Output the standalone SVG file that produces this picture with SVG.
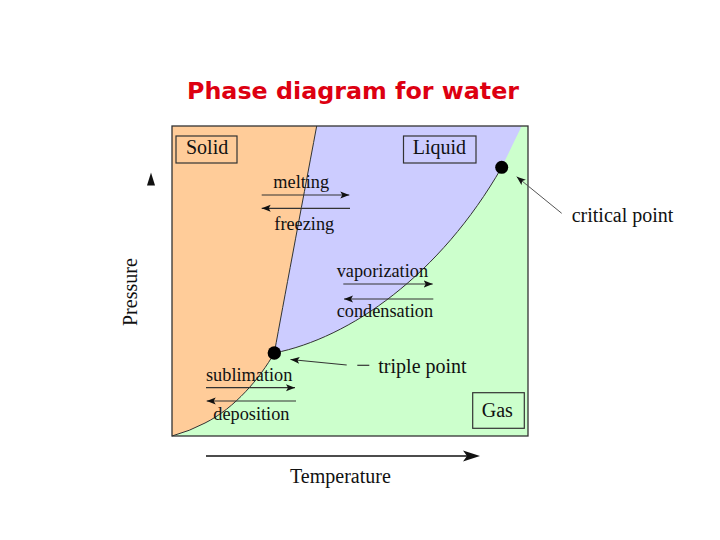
<svg xmlns="http://www.w3.org/2000/svg" width="720" height="540" viewBox="0 0 720 540">
<defs>
<style>
.lbl{font-family:"Liberation Serif","Times New Roman",serif;font-size:20px;fill:#111}
.proc{font-family:"Liberation Serif","Times New Roman",serif;font-size:18.3px;fill:#111}
.box{fill:none;stroke:#333;stroke-width:1.2}
.arr{stroke:#333;stroke-width:1.2;fill:none;marker-end:url(#ah)}
.curve{fill:none;stroke:#333;stroke-width:1}
</style>
<marker id="ah" markerUnits="userSpaceOnUse" markerWidth="10" markerHeight="8" refX="9" refY="4" orient="auto">
<path d="M0,0.5 L9,4 L0,7.5 L2,4 Z" fill="#111"/>
</marker>
</defs>
<rect width="720" height="540" fill="#fff"/>
<text x="187" y="99" font-family="'DejaVu Sans',Verdana,sans-serif" font-weight="bold" font-size="23" fill="#DD0011" textLength="332" lengthAdjust="spacingAndGlyphs">Phase diagram for water</text>

<g id="regions">
<rect id="gas-region" x="172" y="126" width="356" height="310" fill="#CCFFCC"/>
<path id="solid-region" d="M172,126 L316.7,126 C300,215 284,300 274.3,353 C260,378 235,408 205,423 Q190,431 172,436 Z" fill="#FFCC99"/>
<path id="liquid-region" d="M316.7,126 L521.7,126 L501.7,167.3 C440,275 350,338 274.3,353 C284,300 300,215 316.7,126 Z" fill="#CCCCFF"/>
</g>
<g id="curves">
<path class="curve" d="M316.7,126 C300,215 284,300 274.3,353"/>
<path class="curve" d="M274.3,353 C260,378 235,408 205,423 Q190,431 172,436"/>
<path class="curve" d="M274.3,353 C350,338 440,275 501.7,167.3"/>
</g>
<rect id="frame" x="172" y="126" width="356" height="310" fill="none" stroke="#333" stroke-width="1.3"/>

<g id="solid"><rect class="box" x="176" y="136" width="61" height="27"/><text class="lbl" x="186" y="153.5">Solid</text></g>
<g id="liquid"><rect class="box" x="403.5" y="136" width="72.5" height="27"/><text class="lbl" x="412.7" y="153.5">Liquid</text></g>
<g id="gas"><rect class="box" x="472.7" y="392.7" width="51.6" height="35.6"/><text class="lbl" x="481.7" y="416.7">Gas</text></g>

<g id="triple-point"><circle cx="274.3" cy="353" r="6.7" fill="#000"/></g>
<g id="critical-point"><circle cx="501.7" cy="167.3" r="6.5" fill="#000"/></g>

<g id="connectors">
<line class="arr" x1="261.7" y1="195" x2="349.3" y2="195"/>
<line class="arr" x1="350" y1="208.3" x2="261.7" y2="208.3"/>
<line class="arr" x1="343.3" y1="284" x2="432.7" y2="284"/>
<line class="arr" x1="433.3" y1="299" x2="344" y2="299"/>
<line class="arr" x1="206" y1="387.7" x2="295" y2="387.7"/>
<line class="arr" x1="296" y1="401" x2="206.7" y2="401"/>
<line class="arr" x1="346.7" y1="365" x2="290.5" y2="359.5"/>
<line x1="357.3" y1="365.3" x2="369.3" y2="365.3" stroke="#333" stroke-width="1.2"/>
<line class="arr" x1="561.7" y1="213.3" x2="516.7" y2="176.7" style="stroke:#555;stroke-width:1"/>
<line x1="206" y1="456" x2="470" y2="456" stroke="#111" stroke-width="1.3"/>
<path d="M480,456 L463,450.5 L467,456 L463,461.5 Z" fill="#111"/>
<path d="M151,172.5 L155,185.5 L147,185.5 Z" fill="#111"/>
</g>

<g id="labels">
<text class="proc" x="273.3" y="188">melting</text>
<text class="proc" x="274.3" y="229.5">freezing</text>
<text class="proc" x="336.7" y="276.7">vaporization</text>
<text class="proc" x="336.7" y="317.3">condensation</text>
<text class="proc" x="206" y="380.7">sublimation</text>
<text class="proc" x="213.3" y="420">deposition</text>
<text class="lbl" x="378.3" y="373.3">triple point</text>
<text class="lbl" x="571.7" y="221.7">critical point</text>
<text class="lbl" x="290" y="483" font-size="20.5">Temperature</text>
<text class="lbl" transform="translate(136.5,326) rotate(-90)" font-size="20.3">Pressure</text>
</g>
</svg>
